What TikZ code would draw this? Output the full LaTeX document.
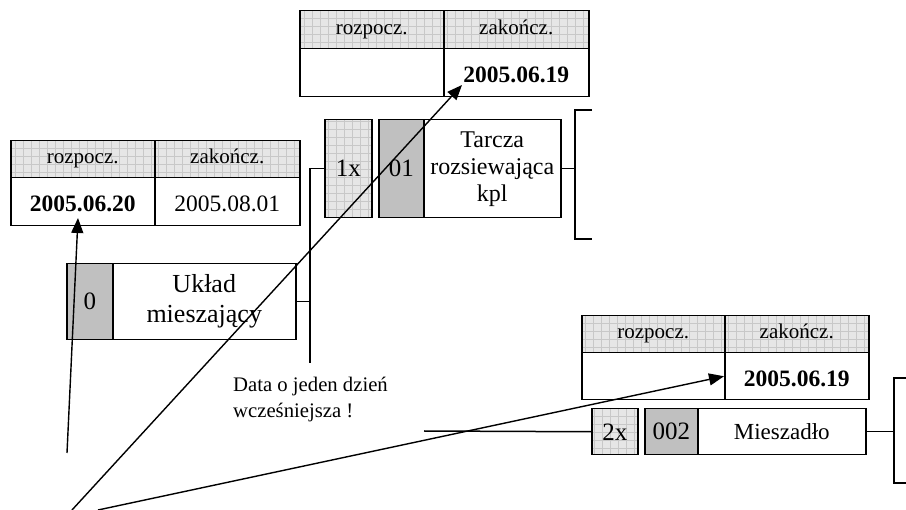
\documentclass[tikz,border=0pt]{standalone}
\usepackage{fontspec}
\setmainfont{Liberation Serif}
\usetikzlibrary{arrows.meta,calc}
\definecolor{hdrgray}{RGB}{230,230,230}
\definecolor{gridgray}{RGB}{200,200,200}
\definecolor{idgray}{RGB}{192,192,192}
\tikzset{
  box/.style={draw=black, line width=1.5pt, inner sep=0pt, anchor=north west, align=center},
  gridfill/.style={fill=hdrgray, path picture={\draw[gridgray, line width=0.4pt] (path picture bounding box.south west) grid[step=8pt] (path picture bounding box.north east);}},
  hdr/.style={box, gridfill, font=\fontsize{21}{24}\selectfont, text height=14pt, text depth=5pt},
  dat/.style={box, fill=white, font=\fontsize{23.5}{27}\selectfont, text height=20pt, text depth=0pt},
  datb/.style={dat, font=\fontsize{23.5}{27}\selectfont\bfseries},
  qty/.style={box, gridfill, font=\fontsize{25}{28}\selectfont},
  idbox/.style={box, fill=idgray, font=\fontsize{25}{28}\selectfont},
  namebox/.style={box, fill=white},
  conn/.style={draw=black, line width=1.5pt},
  arr/.style={draw=black, line width=1.4pt, -{Triangle[length=15pt,width=12pt]}},
  note/.style={inner sep=0pt, anchor=north west, align=left, font=\fontsize{20.7}{26}\selectfont}
}
\begin{document}
\begin{tikzpicture}[x=1pt,y=-1pt]
\useasboundingbox (0,0) rectangle (906,510);
% top table
\node[hdr, minimum width=144, minimum height=38] (th1) at (299,10) {rozpocz.};
\node[hdr, minimum width=145, minimum height=38] (th2) at (443,10) {zakończ.};
\node[dat, minimum width=144, minimum height=48] (td1) at (299,48) {};
\node[datb, minimum width=145, minimum height=48] (td2) at (443,48) {2005.06.19};
% left table
\node[hdr, minimum width=144, minimum height=37] (lh1) at (10,140) {rozpocz.};
\node[hdr, minimum width=145, minimum height=37] (lh2) at (154,140) {zakończ.};
\node[datb, minimum width=144, minimum height=48] (ld1) at (10,177) {2005.06.20};
\node[dat, minimum width=145, minimum height=48] (ld2) at (154,177) {2005.08.01};
% right table
\node[hdr, minimum width=143, minimum height=37] (rh1) at (581,315) {rozpocz.};
\node[hdr, minimum width=144, minimum height=37] (rh2) at (724,315) {zakończ.};
\node[dat, minimum width=143, minimum height=47] (rd1) at (581,352) {};
\node[datb, minimum width=144, minimum height=47] (rd2) at (724,352) {2005.06.19};
% Tarcza group
\node[qty, minimum width=47, minimum height=98] (q1) at (324,119) {1x};
\node[idbox, minimum width=45, minimum height=98] (c1) at (378,119) {01};
\node[namebox, minimum width=137, minimum height=98, font=\fontsize{24}{27}\selectfont] (n1) at (423,119) {Tarcza\\rozsiewająca\\kpl};
% Uklad group
\node[idbox, minimum width=46, minimum height=76] (c0) at (66,263) {0};
\node[namebox, minimum width=183, minimum height=76, font=\fontsize{26}{30}\selectfont] (n0) at (112,263) {Układ\\mieszający};
% Mieszadlo group
\node[qty, minimum width=46, minimum height=46] (q2) at (591,408) {2x};
\node[idbox, minimum width=53, minimum height=46] (c2) at (644,408) {002};
\node[namebox, minimum width=168, minimum height=46, font=\fontsize{23}{26}\selectfont] (n2) at (697,408) {Mieszadło};
% note
\node[note] (nt) at (233,377) {Data o jeden dzień\\wcześniejsza !};
% connectors
\coordinate (vbot) at (310,363);
\draw[conn] (q1.west) -| (vbot);
\draw[conn] (n0.east) -- (n0.east -| vbot);
\coordinate (b1t) at (592,110);
\coordinate (b1b) at (592,239);
\coordinate (b1v) at (575,110);
\draw[conn] (b1t) -- (b1v) -- (b1v |- b1b) -- (b1b);
\draw[conn] (n1.east) -- (n1.east -| b1v);
\coordinate (b2t) at (907,378);
\coordinate (b2b) at (907,483);
\coordinate (b2v) at (894,378);
\draw[conn] (b2t) -- (b2v) -- (b2v |- b2b) -- (b2b);
\draw[conn] (n2.east) -- (n2.east -| b2v);
\coordinate (l2) at (424,431);
\draw[conn] (l2) -- (q2.west);
% arrows
\coordinate (a1s) at (67,453);
\coordinate (a1t) at (78,218);
\coordinate (a2s) at (72,510);
\coordinate (a2t) at (462,85);
\coordinate (a3s) at (98,510);
\draw[arr] (a1s) -- (a1t);
\draw[arr] (a2s) -- (a2t);
\draw[arr] (a3s) -- (rd2.west);
\end{tikzpicture}
\end{document}
